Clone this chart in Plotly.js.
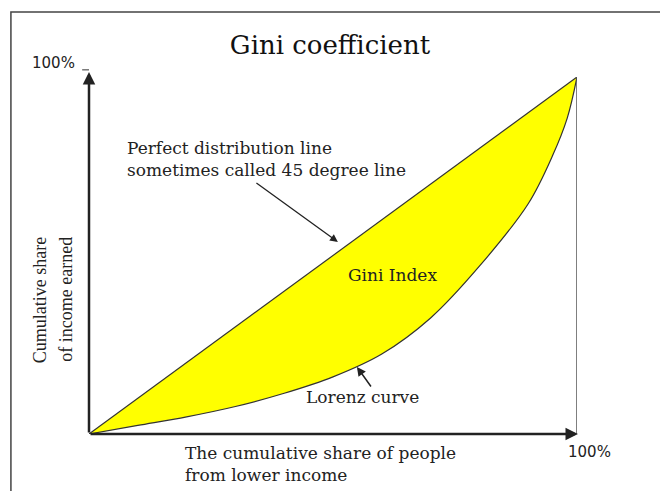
<!DOCTYPE html>
<html>
<head>
<meta charset="utf-8">
<script src="https://cdn.plot.ly/plotly-3.0.1.min.js"></script>
<style>
  html, body { margin: 0; padding: 0; background: #fff; overflow: hidden; }
  #chart { width: 660px; height: 491px; }
</style>
</head>
<body>
<div id="chart"></div>
<script>
// cumulative share of people (%)
var peopleShare = [0, 10, 20, 30, 40, 50, 60, 70, 80, 90, 95, 98, 100];
// cumulative share of income on the Lorenz curve (%)
var incomeShare = [0, 2.4, 4.8, 7.7, 11.4, 16, 22.4, 32.5, 47, 64.5, 78, 88.5, 100];
// perfect distribution (45 degree) line
var equalX = [0, 100];
var equalY = [0, 100];

var serif = 'DejaVu Serif, serif';
var ink = '#222';

function graficarGini() {
    var data = [
        {
            x: equalX,
            y: equalY,
            type: 'scatter',
            mode: 'lines',
            line: { color: '#333', width: 1.2 },
            hoverinfo: 'skip'
        },
        {
            x: peopleShare,
            y: incomeShare,
            type: 'scatter',
            mode: 'lines',
            line: { color: '#333', width: 1.2, shape: 'spline', smoothing: 1 },
            fill: 'tonexty',
            fillcolor: '#ffff00',
            hoverinfo: 'skip'
        }
    ];

    var hidden = {
        range: [0, 100],
        showgrid: false,
        zeroline: false,
        showline: false,
        showticklabels: false,
        ticks: '',
        fixedrange: true
    };

    var layout = {
        width: 660,
        height: 491,
        margin: { l: 89, r: 83, t: 77, b: 57 },
        paper_bgcolor: '#fff',
        plot_bgcolor: 'rgba(0,0,0,0)',
        showlegend: false,
        title: {
            text: 'Gini coefficient',
            font: { family: serif, size: 26, color: '#111' },
            xref: 'container', x: 0.5, xanchor: 'center',
            yref: 'container', y: 0.908, yanchor: 'middle'
        },
        xaxis: Object.assign({}, hidden),
        yaxis: Object.assign({}, hidden),
        shapes: [
            // outer frame
            { type: 'rect', xref: 'paper', yref: 'paper', x0: -0.16, x1: 1.2, y0: -0.2, y1: 1.182,
              line: { color: '#444', width: 1.5 } },
            // right edge of the square
            { type: 'line', xref: 'x', yref: 'y', x0: 100, x1: 100, y0: 0, y1: 100,
              line: { color: '#555', width: 1.5 } },
            // little tick beside the top 100%
            { type: 'line', xref: 'paper', yref: 'paper', x0: -0.014, x1: 0, y0: 1.02, y1: 1.02,
              line: { color: '#333', width: 1 } }
        ],
        annotations: [
            // y axis arrow
            { xref: 'x', yref: 'y', axref: 'x', ayref: 'y', x: 0, y: 101.4, ax: 0, ay: 0,
              text: '', showarrow: true, arrowhead: 2, arrowsize: 1, arrowwidth: 2.5,
              arrowcolor: '#222', standoff: 0, startstandoff: 0 },
            // x axis arrow
            { xref: 'x', yref: 'y', axref: 'x', ayref: 'y', x: 100.2, y: 0, ax: 0, ay: 0,
              text: '', showarrow: true, arrowhead: 2, arrowsize: 1, arrowwidth: 2.5,
              arrowcolor: '#222', standoff: 0, startstandoff: 0 },
            { xref: 'paper', yref: 'paper', x: -0.072, y: 1.039, xanchor: 'center', yanchor: 'middle',
              text: '100%', showarrow: false,
              font: { family: 'DejaVu Sans, sans-serif', size: 15, color: ink } },
            { xref: 'paper', yref: 'paper', x: 1.025, y: -0.05, xanchor: 'center', yanchor: 'middle',
              text: '100%', showarrow: false,
              font: { family: 'DejaVu Sans, sans-serif', size: 15, color: ink } },
            { xref: 'x', yref: 'y', x: 7.4, y: 77, xanchor: 'left', yanchor: 'middle', align: 'left',
              text: 'Perfect distribution line<br>sometimes called 45 degree line', showarrow: false,
              font: { family: serif, size: 17, color: ink } },
            // arrow to the 45 degree line
            { xref: 'x', yref: 'y', axref: 'x', ayref: 'y', x: 51, y: 53.8, ax: 34, ay: 70.6,
              text: '', showarrow: true, arrowhead: 2, arrowsize: 1.2, arrowwidth: 1.3,
              arrowcolor: '#222', standoff: 0, startstandoff: 0 },
            { xref: 'x', yref: 'y', x: 62.1, y: 44.5, xanchor: 'center', yanchor: 'middle',
              text: 'Gini Index', showarrow: false,
              font: { family: serif, size: 17, color: ink } },
            { xref: 'x', yref: 'y', x: 56.1, y: 10.4, xanchor: 'center', yanchor: 'middle',
              text: 'Lorenz curve', showarrow: false,
              font: { family: serif, size: 17, color: ink } },
            // arrow to the Lorenz curve
            { xref: 'x', yref: 'y', axref: 'x', ayref: 'y', x: 54.9, y: 18.8, ax: 58, ay: 12.9,
              text: '', showarrow: true, arrowhead: 2, arrowsize: 1.2, arrowwidth: 1.5,
              arrowcolor: '#222', standoff: 0, startstandoff: 0 },
            { xref: 'paper', yref: 'paper', x: 0.193, y: -0.084, xanchor: 'left', yanchor: 'middle',
              align: 'left', text: 'The cumulative share of people<br>from lower income', showarrow: false,
              font: { family: serif, size: 17, color: ink } },
            { xref: 'paper', yref: 'paper', x: -0.1, y: 0.557, xanchor: 'center', yanchor: 'top',
              textangle: -90, text: 'Cumulative share', showarrow: false,
              font: { family: 'Liberation Serif, serif', size: 18, color: ink } },
            { xref: 'paper', yref: 'paper', x: -0.047, y: 0.557, xanchor: 'center', yanchor: 'top',
              textangle: -90, text: 'of income earned', showarrow: false,
              font: { family: 'Liberation Serif, serif', size: 18, color: ink } }
        ]
    };

    Plotly.newPlot('chart', data, layout, { staticPlot: true, displayModeBar: false });
}

graficarGini();
</script>
</body>
</html>
